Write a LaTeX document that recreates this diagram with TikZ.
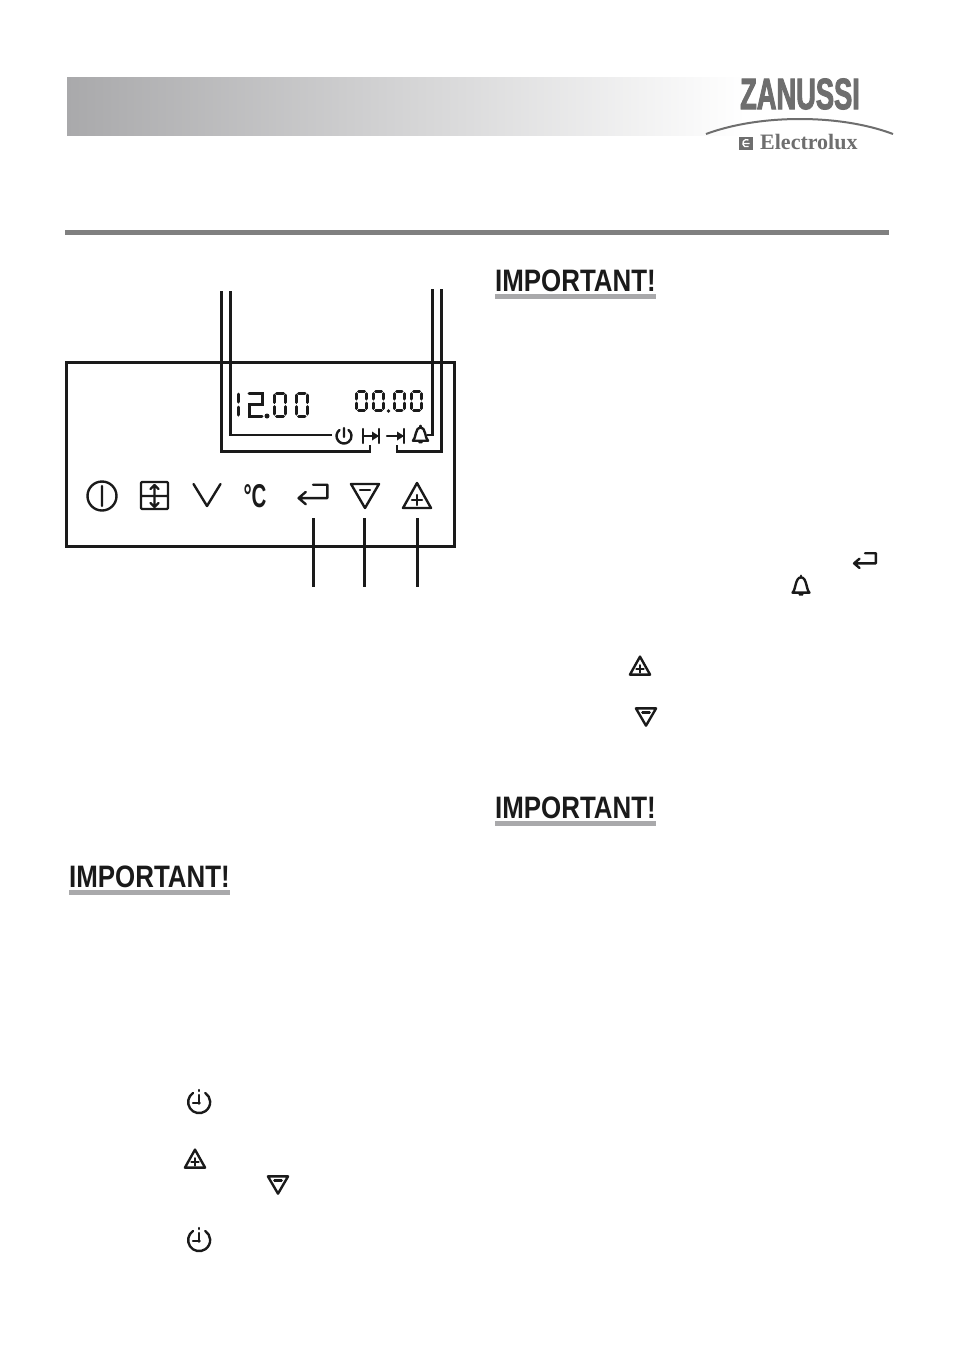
\documentclass[tikz,border=0pt]{standalone}
\usepackage{fontspec}
\setmainfont{Liberation Sans}
\newfontfamily\headfont[FakeStretch=0.835]{Liberation Sans}
\newfontfamily\logofont[FakeStretch=0.62,BoldFeatures={FakeBold=2}]{Liberation Sans}
\newfontfamily\signfont[FakeStretch=0.62]{Liberation Sans}
\newfontfamily\brandfont{Liberation Serif}
\definecolor{bandgray}{HTML}{A9A9AB}
\definecolor{rulegray}{HTML}{808080}
\definecolor{logogray}{HTML}{6E6E6E}
\definecolor{inkblack}{HTML}{1A1A1A}
\tikzset{
  leader/.style={draw=inkblack,line width=2.6pt},
  glyph/.style={draw=inkblack,line width=2.4pt,line join=round,line cap=round},
  segline/.style={draw=inkblack,line width=3pt,line cap=round},
  headline/.style={font=\headfont\bfseries\fontsize{31}{31}\selectfont,text=inkblack,anchor=base west,inner sep=0pt},
  triplus/.pic={
    \draw[glyph] (0,-13) -- (14,12) -- (-14,12) -- cycle;
    \draw[glyph] (-5,4) -- (5,4) (0,-1) -- (0,9);
  },
  triminus/.pic={
    \draw[glyph] (-14,-12) -- (14,-12) -- (0,12) -- cycle;
    \draw[glyph] (-5,-6) -- (5,-6);
  },
  clockmark/.pic={
    \draw[glyph] (-6,-9) arc[start angle=124,end angle=416,radius=11,x radius=11,y radius=-11];
    \draw[glyph] (0,-12) -- (0,-11) (0,-7) -- (0,1) -- (-6,1);
    \fill[inkblack] (0,1) circle (1.8);
  },
  bellmark/.pic={
    \draw[glyph] (-10,9) .. controls (-6,6) and (-7,-9) .. (0,-9) .. controls (7,-9) and (6,6) .. (10,9) -- cycle;
    \draw[glyph] (0,-9) -- (0,-11);
    \fill[inkblack] (-4,9) -- (4,9) -- (2,12.5) -- (-2,12.5) -- cycle;
  },
  returnmark/.pic={
    \draw[glyph] (14,-10) -- (14,3) -- (-14,3) (-7,-3) -- (-14,3) -- (-7,9) (14,-10) -- (0,-10);
  }
}
% segmented figures of the display
\newcommand{\segzero}[4]{
  \draw[segline] (#1,#2) ++(2,0) -- ++(#3-4,0);
  \draw[segline] (#1,#2+#4) ++(2,0) -- ++(#3-4,0);
  \draw[segline] (#1,#2+2) -- ++(0,#4/2-4);
  \draw[segline] (#1+#3,#2+2) -- ++(0,#4/2-4);
  \draw[segline] (#1,#2+#4/2+2) -- ++(0,#4/2-4);
  \draw[segline] (#1+#3,#2+#4/2+2) -- ++(0,#4/2-4);
}
\begin{document}
\begin{tikzpicture}[x=1pt,y=-1pt]
  \useasboundingbox (0,0) rectangle (954,1355);
  \fill[white] (0,0) rectangle (954,1355);

  % header
  \shade[left color=bandgray,right color=white] (67,77) rectangle (745,135);
  \fill[rulegray] (65,230) rectangle (889,235);
  \node (zanussi) [inner sep=0pt,text=logogray,font=\logofont\bfseries\fontsize{44}{44}\selectfont] at (800,94) {ZANUSSI};
  \draw[logogray,line width=2pt] (706,134) .. controls (760,114) and (840,114) .. (893,134);
  \fill[logogray] (739,137) rectangle (752.5,150);
  \draw[white,line width=1.3pt] (748.5,140) arc[start angle=60,end angle=300,radius=3.8,x radius=3.8,y radius=-3.8] (743,143.5) -- (749.5,143.5);
  \node (electrolux) [inner sep=0pt,anchor=base west,text=logogray,font=\brandfont\bfseries\fontsize{22}{22}\selectfont] at (760,149) {Electrolux};

  % headings
  \node (importa) [headline] at (495,291) {IMPORTANT!};
  \node (importb) [headline] at (495,818) {IMPORTANT!};
  \node (importc) [headline] at (69,887) {IMPORTANT!};
  \fill[bandgray] (495,294) rectangle (656,298.5);
  \fill[bandgray] (495,821) rectangle (656,825.5);
  \fill[bandgray] (69,890) rectangle (230,894.5);

  % panel
  \draw[inkblack,line width=3pt] (66.5,362) rectangle (454,546);

  % display
  \draw[segline] (238,394) -- (238,402) (238,407) -- (238,415);
  \draw[segline] (249,393) -- (262,393) -- (262,404) -- (249,404) -- (249,416) -- (262,416);
  \fill[inkblack] (267,416) circle (2.5);
  \segzero{274.5}{393}{11}{23}
  \segzero{296.5}{393}{10.5}{23}
  \segzero{356.5}{391.5}{10}{19}
  \segzero{373.5}{391.5}{10}{19}
  \fill[inkblack] (388.5,411) circle (1.8);
  \segzero{394.5}{391.5}{9.5}{19}
  \segzero{411.5}{391.5}{10}{19}

  % small signs under the display
  \coordinate (clockend) at (332,435);
  \coordinate (startend) at (370,445);
  \coordinate (stopend) at (397,445);
  \coordinate (bellend) at (427,435);
  \coordinate (topa) at (221.5,291);
  \coordinate (topb) at (230.5,291);
  \coordinate (topc) at (432.5,289);
  \coordinate (topd) at (441.5,289);
  \draw[glyph] (344,428) -- (344,437) (339.5,430) arc[start angle=127,end angle=413,radius=7.5,x radius=7.5,y radius=-7.5];
  \draw[glyph] (363,429) -- (363,443) (363,436) -- (373,436) (379,429) -- (379,443);
  \fill[inkblack] (379,436) -- (372,431.5) -- (372,440.5) -- cycle;
  \draw[glyph] (387,436) -- (398,436) (404,429) -- (404,443);
  \fill[inkblack] (404,436) -- (397,431.5) -- (397,440.5) -- cycle;
  \pic[scale=.75] at (420.5,434) {bellmark};

  % leaders
  \draw[leader] (topa) |- (356,451.5) -| (startend);
  \draw[leader] (topb) |- (clockend);
  \draw[leader] (topc) |- (bellend);
  \draw[leader] (topd) |- (400,451.5) -| (stopend);

  % keys
  \draw[glyph] (102,496) circle (14.5) (102,486) -- (102,506);
  \draw[glyph,rounded corners=1pt] (141,482) rectangle (168,509) (141,496) -- (168,496);
  \draw[glyph] (154.5,486) -- (154.5,506) (150.5,489) -- (154.5,485) -- (158.5,489) (150.5,503) -- (154.5,507) -- (158.5,503);
  \draw[glyph] (193.5,484) -- (207,506) -- (220.5,484);
  \node (degree) [inner sep=0pt,anchor=base,text=inkblack,font=\signfont\bfseries\fontsize{33}{33}\selectfont] at (255,507) {°C};
  \pic[scale=1.03] (enterkey) at (313,495) {returnmark};
  \pic (minuskey) at (365,496) {triminus};
  \pic (pluskey) at (417,496) {triplus};

  \coordinate (enterlow) at (313.5,587);
  \coordinate (minuslow) at (364.7,587);
  \coordinate (pluslow) at (417.5,587);
  \draw[leader] (313.5,518) -- (enterlow);
  \draw[leader] (364.7,518) -- (minuslow);
  \draw[leader] (417.5,518) -- (pluslow);

  % signs in the text
  \pic[scale=.78] at (865,561) {returnmark};
  \pic[scale=.85] at (801,585) {bellmark};
  \pic[scale=.72] at (640,666) {triplus};
  \pic[scale=.72] at (646,717) {triminus};
  \pic at (199,1102) {clockmark};
  \pic at (199,1240) {clockmark};
  \pic[scale=.72] at (195,1159) {triplus};
  \pic[scale=.72] at (278,1185) {triminus};
\end{tikzpicture}
\end{document}
